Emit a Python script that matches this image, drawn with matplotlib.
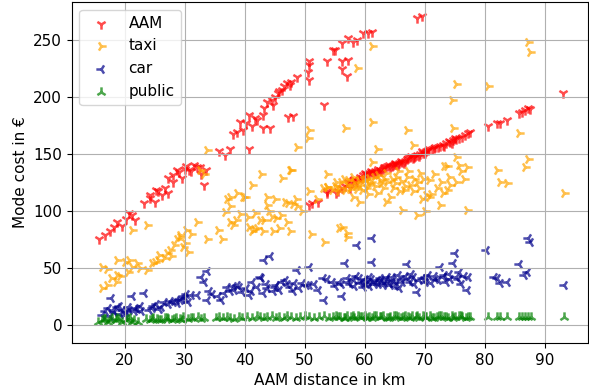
import numpy as np
import matplotlib
matplotlib.use('Agg')
import matplotlib.pyplot as plt

plt.rcParams['font.size'] = 11

# AAM (two bands)
aam_x = [15.8, 16.7, 17.5, 18.3, 18.8, 19.5, 20.3, 20.8, 21.2, 21.7, 23.3, 24.2, 25.0, 25.5, 26.2,
         26.7, 27.2, 27.2, 28.0, 28.8, 29.5, 30.3, 30.8, 31.5, 32.0, 32.8, 33.3, 24.2, 25.3, 28.0,
         29.0, 30.0, 31.0, 32.5, 33.5,
         35.8, 36.7, 37.5, 38.0, 38.8, 39.2, 39.7, 40.3, 40.8, 40.8, 41.3, 41.7, 42.0, 43.0, 43.0,
         43.3, 43.8, 44.2, 44.5, 44.8, 45.0, 45.5, 45.8, 46.3, 46.6, 47.0, 47.2, 47.5, 47.8, 48.0,
         48.7, 50.5, 50.7, 50.8, 50.8, 53.3, 53.7, 54.7, 55.0, 56.2, 56.2, 56.2, 57.0, 57.2, 57.2,
         58.0, 58.8, 59.7, 60.5, 61.3, 68.7, 69.5,
         50.8, 51.2, 52.2, 53.7, 53.8, 55.3, 55.5, 56.3, 56.8, 57.2, 57.5, 57.8, 58.0, 58.3, 58.5,
         58.8, 59.2, 59.5, 59.8, 60.0, 60.3, 60.6, 60.8, 61.0, 61.3, 61.6, 61.8, 62.0, 62.2, 62.5,
         62.8, 63.0, 63.3, 63.4, 63.7, 64.0, 64.2, 64.5, 64.7, 65.0, 65.1, 65.3, 65.6, 65.8, 66.0,
         66.3, 66.6, 66.8, 67.0, 67.2, 67.5, 67.8, 68.0, 68.2, 68.4, 68.7, 69.0, 69.2, 69.5, 69.7,
         70.0, 70.3, 70.6, 70.8, 71.2, 71.5, 71.8, 72.2, 72.5, 73.0, 73.3, 73.6, 74.0, 74.2, 74.5,
         74.8, 75.0, 75.3, 75.8, 76.3, 76.8, 77.2, 77.5, 80.5, 82.0, 82.5, 83.8, 85.8, 86.3, 86.7,
         87.2, 87.5, 93.0]
aam_y = [75, 79, 82, 86, 90, 87, 93, 98, 96, 92, 107, 111, 108, 117, 114,
         120, 116, 129, 125, 136, 129, 139, 136, 140, 138, 132, 123, 114, 118, 131,
         134, 137, 135, 138, 136,
         152, 149, 154, 167, 169, 178, 171, 177, 184, 154, 174, 181, 180, 184, 173,
         190, 195, 173, 197, 193, 200, 203, 205, 206, 209, 212, 182, 210, 213, 183,
         217, 222, 215, 228, 231, 193, 231, 241, 241, 247, 231, 224, 218, 251, 232,
         248, 250, 256, 256, 257, 269, 271,
         105, 107, 108, 116, 117, 116, 117, 120, 122, 125, 120, 124, 127, 128, 126,
         125, 130, 129, 131, 133, 132, 131, 133, 135, 134, 133, 135, 133, 137, 136,
         135, 137, 138, 138, 139, 140, 138, 139, 140, 141, 142, 141, 140, 142, 144,
         143, 142, 144, 145, 146, 147, 148, 146, 147, 148, 149, 148, 150, 152, 151,
         151, 152, 153, 154, 154, 155, 156, 156, 157, 158, 157, 159, 161, 160, 159,
         162, 164, 163, 164, 165, 166, 168, 169, 174, 177, 177, 180, 186, 187, 188,
         190, 189, 203]

taxi_x = [16.2, 16.3, 17.0, 17.0, 17.8, 18.5, 18.7, 18.7, 19.3, 20.0, 20.5, 20.8, 21.2, 21.2, 22.0,
          22.5, 23.7, 23.8, 24.5, 25.0, 25.5, 25.8, 26.5, 27.0, 27.5, 27.8, 28.3, 28.7, 29.2, 29.2,
          29.7, 30.0, 30.3, 30.5, 31.0, 32.0, 32.5, 33.3, 33.7, 33.7, 35.5, 36.2, 36.7, 37.0, 37.5,
          37.5, 37.5, 38.0, 38.5, 38.7, 39.2, 39.7, 40.0, 40.5, 40.8, 41.2, 41.3, 41.5, 41.8, 42.0,
          42.5, 42.8, 43.0, 43.3, 43.7, 43.7, 44.0, 44.5, 44.7, 45.0, 45.3, 45.8, 46.0, 46.3, 46.7,
          47.0, 47.2, 47.5, 47.5, 47.8, 48.0, 48.5, 48.7, 48.8, 49.5, 50.5, 50.8, 50.8, 51.0, 52.0,
          53.0, 53.3, 53.7, 53.7, 53.8, 54.5, 55.0, 55.3, 55.5, 55.8, 55.8, 56.0, 56.2, 56.5, 56.7,
          56.8, 57.0, 57.0, 57.0, 57.3, 57.5, 57.8, 58.0, 58.0, 58.2, 58.5, 58.7, 58.8, 59.0, 59.0,
          59.3, 59.5, 59.8, 60.0, 60.3, 60.5, 60.5, 60.7, 60.8, 61.0, 61.2, 61.3, 61.3, 61.5, 61.8,
          62.0, 62.0, 62.3, 62.5, 62.8, 63.0, 63.2, 63.5, 63.5, 63.8, 64.2, 64.5, 64.8, 65.0, 65.3,
          65.5, 65.8, 66.0, 66.3, 66.5, 66.8, 67.0, 67.0, 67.3, 67.5, 68.0, 68.0, 68.3, 68.7, 68.7,
          69.0, 69.2, 69.5, 69.8, 70.0, 70.3, 70.8, 70.8, 71.0, 71.5, 72.0, 72.5, 72.8, 73.0, 73.3,
          73.7, 73.8, 74.0, 74.2, 74.5, 74.7, 75.3, 75.3, 75.3, 75.8, 76.0, 76.5, 77.0, 77.0, 80.5,
          82.0, 82.5, 83.8, 85.8, 86.7, 87.2, 87.2, 87.5, 93.3]
taxi_y = [32, 51, 35, 49, 41, 38, 44, 57, 43, 55, 46, 57, 51, 83, 54,
          50, 88, 48, 54, 55, 57, 61, 59, 63, 66, 60, 70, 75, 77, 79,
          68, 72, 83, 64, 80, 90, 136, 132, 75, 153, 83, 75, 99, 110, 90,
          104, 112, 88, 92, 116, 97, 112, 112, 95, 86, 123, 82, 84, 98, 85,
          92, 132, 82, 92, 112, 105, 100, 95, 82, 110, 94, 85, 96, 129, 108,
          90, 107, 136, 82, 136, 106, 110, 104, 156, 100, 164, 171, 117, 80, 110,
          120, 73, 132, 121, 121, 118, 122, 125, 120, 117, 85, 125, 86, 128, 173,
          118, 81, 123, 77, 127, 119, 121, 130, 112, 125, 122, 119, 225, 126, 108,
          123, 118, 127, 128, 120, 124, 115, 129, 123, 125, 143, 178, 244, 130, 122,
          154, 116, 131, 127, 124, 120, 128, 133, 108, 125, 112, 128, 120, 124, 130,
          135, 117, 126, 101, 118, 122, 171, 130, 135, 123, 158, 117, 128, 125, 96,
          120, 133, 110, 128, 100, 114, 112, 127, 115, 132, 120, 105, 125, 116, 139,
          139, 118, 130, 123, 197, 173, 211, 147, 125, 140, 135, 128, 101, 138, 209,
          136, 125, 124, 168, 138, 145, 248, 239, 116]

car_x = [16.3, 16.8, 17.2, 17.5, 17.8, 18.0, 18.3, 18.7, 19.0, 19.2, 19.5, 20.0, 20.3, 20.5, 20.8,
         21.2, 21.5, 21.8, 22.0, 22.5, 22.8, 23.3, 24.0, 24.5, 24.8, 25.3, 25.8, 26.0, 26.5, 27.2,
         27.6, 28.0, 28.5, 28.8, 29.2, 29.5, 29.8, 30.0, 30.3, 30.5, 31.0, 32.0, 32.8, 33.3, 33.7,
         33.7, 34.0, 34.5, 35.5, 36.0, 36.5, 37.0, 37.5, 38.0, 38.2, 38.7, 39.0, 39.5, 40.2, 40.8,
         41.0, 41.3, 42.0, 42.5, 42.8, 43.0, 43.3, 43.5, 43.8, 44.2, 44.7, 45.0, 45.3, 45.8, 46.3,
         46.8, 47.0, 47.5, 48.0, 48.3, 48.8, 49.0, 49.5, 50.2, 50.8, 50.8, 51.5, 52.3, 53.0, 53.3,
         53.7, 54.5, 55.0, 55.8, 56.0, 56.2, 56.7, 57.0, 57.2, 57.5, 58.0, 58.2, 58.5, 58.8, 59.0,
         59.2, 59.5, 59.7, 60.0, 60.2, 60.5, 60.7, 60.8, 61.0, 61.2, 61.3, 61.5, 61.8, 62.0, 62.3,
         62.5, 62.8, 63.0, 63.3, 63.5, 63.8, 64.0, 64.3, 64.5, 64.8, 65.0, 65.3, 65.5, 65.8, 66.0,
         66.3, 66.8, 67.0, 67.2, 67.5, 67.8, 68.0, 68.3, 68.8, 69.0, 69.5, 70.0, 70.3, 70.5, 71.0,
         71.5, 71.8, 72.2, 72.5, 73.0, 73.3, 73.5, 74.0, 74.3, 74.7, 75.0, 75.2, 75.5, 75.8, 76.0,
         76.5, 77.0, 77.2, 80.3, 81.5, 82.0, 82.5, 83.8, 85.8, 86.5, 87.0, 87.2, 87.5, 93.3]
car_y = [9, 12, 15, 8, 24, 13, 11, 16, 17, 10, 13, 9, 11, 16, 13,
         25, 12, 15, 14, 17, 12, 28, 13, 15, 17, 18, 14, 16, 20, 18,
         21, 20, 22, 19, 22, 23, 25, 24, 27, 20, 26, 26, 42, 38, 47,
         22, 30, 27, 25, 22, 28, 33, 30, 34, 31, 35, 33, 29, 32, 26,
         30, 38, 33, 42, 41, 28, 57, 36, 32, 60, 30, 33, 35, 31, 38,
         39, 36, 33, 30, 37, 48, 32, 37, 35, 51, 35, 36, 31, 41, 22,
         40, 38, 34, 38, 36, 25, 54, 41, 38, 36, 40, 34, 43, 70, 41,
         37, 38, 33, 40, 36, 38, 34, 42, 40, 76, 55, 36, 38, 39, 36,
         41, 39, 35, 37, 40, 42, 37, 35, 42, 39, 34, 37, 44, 32, 40,
         38, 43, 53, 40, 38, 45, 42, 36, 29, 39, 41, 38, 41, 44, 37,
         43, 40, 39, 51, 42, 44, 38, 45, 40, 54, 63, 42, 40, 46, 36,
         43, 31, 42, 66, 42, 41, 37, 38, 53, 44, 46, 76, 73, 35]

pub_x = [15.6, 16.2, 16.5, 16.8, 17.3, 17.6, 17.9, 18.5, 18.8, 19.0, 19.6, 20.2, 20.5, 20.9, 21.2,
         21.5, 22.3, 23.6, 24.2, 24.5, 24.8, 25.4, 25.7, 26.0, 26.7, 27.0, 27.3, 27.9, 28.2, 28.6,
         29.2, 29.5, 29.8, 30.5, 31.0, 31.4, 32.3, 32.8, 33.3, 35.2, 35.8, 36.4, 37.0, 37.6, 38.3,
         39.0, 39.6, 40.4, 41.2, 42.0, 42.6, 43.2, 43.8, 44.5, 45.2, 45.8, 46.5, 47.1, 47.8, 48.5,
         49.3, 50.0, 50.8, 51.5, 52.4, 53.2, 54.0, 54.7, 55.3, 55.6, 55.9, 56.5, 56.8, 57.1, 57.7,
         58.0, 58.3, 58.9, 59.2, 59.5, 60.1, 60.4, 60.7, 61.3, 61.6, 61.9, 62.5, 62.8, 63.1, 63.7,
         64.0, 64.3, 64.9, 65.2, 65.5, 66.1, 66.4, 66.7, 67.3, 67.6, 67.9, 68.5, 68.8, 69.1, 69.7,
         70.0, 70.3, 70.9, 71.2, 71.5, 72.1, 72.4, 72.7, 73.3, 73.6, 73.9, 74.5, 74.8, 75.1, 75.7,
         76.0, 76.3, 76.9, 77.2, 77.6, 80.5, 82.0, 82.5, 83.8, 85.8, 86.3, 86.8, 87.3, 87.8, 93.3]
pub_y = [3, 4, 5, 5, 3, 4, 6, 4, 6, 5, 3, 4, 5, 6, 3,
         4, 3, 5, 4, 5, 6, 5, 4, 4, 6, 6, 5, 4, 5, 6,
         5, 4, 7, 5, 6, 6, 7, 5, 6, 6, 7, 6, 7, 6, 5,
         7, 6, 7, 6, 8, 7, 6, 7, 8, 6, 7, 6, 8, 7, 6,
         7, 8, 7, 6, 7, 8, 6, 7, 8, 7, 7, 6, 6, 8, 7,
         8, 6, 8, 7, 7, 8, 6, 7, 6, 8, 8, 7, 7, 8, 6,
         6, 7, 8, 8, 7, 6, 7, 8, 7, 6, 8, 7, 8, 6, 8,
         7, 7, 8, 6, 6, 7, 8, 8, 7, 7, 6, 8, 6, 7, 8,
         8, 7, 6, 7, 7, 7, 7, 7, 7, 7, 7, 7, 7, 7, 7]

fig = plt.figure(figsize=(5.89, 3.92), dpi=100)
ax = fig.add_axes([0.122, 0.125, 0.876, 0.870])

ax.scatter(aam_x, aam_y, marker='1', color='red', alpha=0.7, s=55, linewidths=1.8, label='AAM')
ax.scatter(taxi_x, taxi_y, marker='4', color='orange', alpha=0.7, s=55, linewidths=1.8, label='taxi')
ax.scatter(car_x, car_y, marker='3', color='darkblue', alpha=0.7, s=55, linewidths=1.8, label='car')
ax.scatter(pub_x, pub_y, marker='2', color='green', alpha=0.7, s=55, linewidths=1.8, label='public')

ax.set_xlim(11.2, 97.2)
ax.set_ylim(-15.8, 283)
ax.set_xlabel('AAM distance in km')
ax.set_ylabel('Mode cost in €')
ax.grid(True)
ax.legend(loc='upper left')

fig.savefig('out.png', dpi=100)
